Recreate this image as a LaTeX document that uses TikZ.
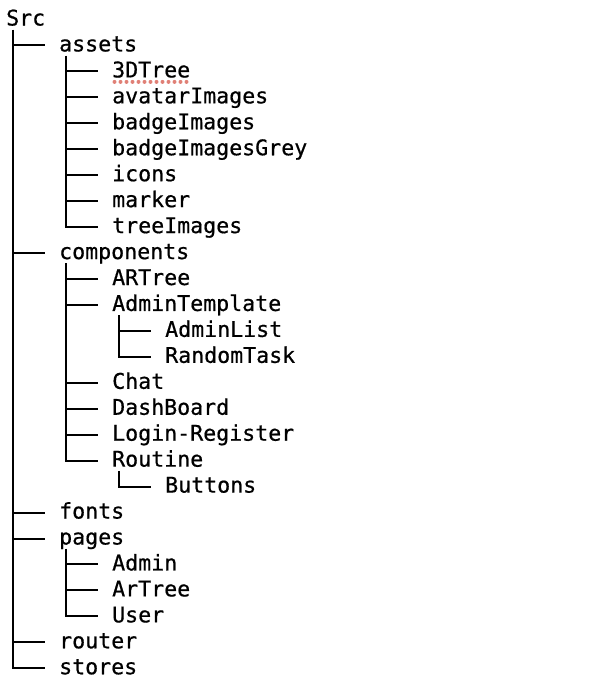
\documentclass[tikz,border=0pt]{standalone}
\usepackage{fontspec}
\newfontfamily\treefont[FakeBold=0.6]{DejaVu Sans Mono}
\usetikzlibrary{calc}
\definecolor{spellred}{RGB}{224,128,118}
\tikzset{
  entry/.style={anchor=west, inner sep=0pt, text height=16pt, text depth=4pt,
    font=\treefont\fontsize{21.6}{26}\selectfont, text=black},
  treeline/.style={line width=2pt, black},
  spell/.style={line width=4pt, dash pattern=on 0pt off 6pt, line cap=round, color=spellred}
}
\begin{document}
\begin{tikzpicture}[x=1pt,y=-1pt]
\useasboundingbox (0,0) rectangle (614,686);
\def\rowy#1{19.5+25.95*#1}
% level x: 6, 59, 112, 165
\node[entry] (src) at (6,{\rowy{0}}) {Src};
\node[entry] (assets) at (59,{\rowy{1}}) {assets};
\node[entry] (tdtree) at (112,{\rowy{2}}) {3DTree};
\node[entry] (avatar) at (112,{\rowy{3}}) {avatarImages};
\node[entry] (badge) at (112,{\rowy{4}}) {badgeImages};
\node[entry] (badgegrey) at (112,{\rowy{5}}) {badgeImagesGrey};
\node[entry] (icons) at (112,{\rowy{6}}) {icons};
\node[entry] (marker) at (112,{\rowy{7}}) {marker};
\node[entry] (treeimg) at (112,{\rowy{8}}) {treeImages};
\node[entry] (components) at (59,{\rowy{9}}) {components};
\node[entry] (artree) at (112,{\rowy{10}}) {ARTree};
\node[entry] (admintpl) at (112,{\rowy{11}}) {AdminTemplate};
\node[entry] (adminlist) at (165,{\rowy{12}}) {AdminList};
\node[entry] (randomtask) at (165,{\rowy{13}}) {RandomTask};
\node[entry] (chat) at (112,{\rowy{14}}) {Chat};
\node[entry] (dashboard) at (112,{\rowy{15}}) {DashBoard};
\node[entry] (login) at (112,{\rowy{16}}) {Login-Register};
\node[entry] (routine) at (112,{\rowy{17}}) {Routine};
\node[entry] (buttons) at (165,{\rowy{18}}) {Buttons};
\node[entry] (fonts) at (59,{\rowy{19}}) {fonts};
\node[entry] (pages) at (59,{\rowy{20}}) {pages};
\node[entry] (admin) at (112,{\rowy{21}}) {Admin};
\node[entry] (artree2) at (112,{\rowy{22}}) {ArTree};
\node[entry] (user) at (112,{\rowy{23}}) {User};
\node[entry] (router) at (59,{\rowy{24}}) {router};
\node[entry] (stores) at (59,{\rowy{25}}) {stores};

% vertical trunks with final corner
\draw[treeline] ($(src.south west)+(6.5,0)$) |- ($(stores.west)+(-14,0)$);
\draw[treeline] ($(assets.south west)+(6.5,0)$) |- ($(treeimg.west)+(-14,0)$);
\draw[treeline] ($(components.south west)+(6.5,0)$) |- ($(routine.west)+(-14,0)$);
\draw[treeline] ($(admintpl.south west)+(6.5,0)$) |- ($(randomtask.west)+(-14,0)$);
\draw[treeline] ($(routine.south west)+(6.5,0)$) |- ($(buttons.west)+(-14,0)$);
\draw[treeline] ($(pages.south west)+(6.5,0)$) |- ($(user.west)+(-14,0)$);

% branches
\foreach \n in {assets,components,fonts,pages,router,
                tdtree,avatar,badge,badgegrey,icons,marker,
                artree,admintpl,adminlist,chat,dashboard,login,
                admin,artree2}
  \draw[treeline] ($(\n.west)+(-46.5,0)$) -- ($(\n.west)+(-14,0)$);

% spell-check underline
\draw[spell] ($(tdtree.base west)+(2.5,4.5)$) -- ($(tdtree.base east)+(-1,4.5)$);
\end{tikzpicture}
\end{document}
